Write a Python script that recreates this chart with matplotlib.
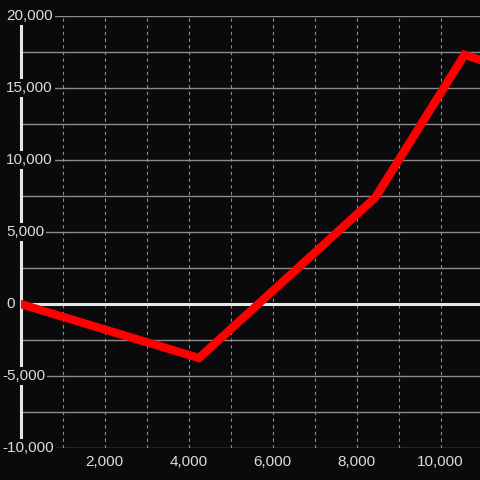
import matplotlib.pyplot as plt
from matplotlib.ticker import MultipleLocator, FuncFormatter
from matplotlib.transforms import blended_transform_factory

# Series
x_vals = [0, 4250, 8450, 10570, 11000]
y_vals = [0, -3750, 7400, 17300, 16900]

x_ticks = [2000, 4000, 6000, 8000, 10000]
y_ticks = [-10000, -5000, 0, 5000, 10000, 15000, 20000]

bg = '#0a090c'
grid_col = '#8c8c8c'
text_col = '#dcdcdc'

plt.rcParams['font.family'] = ['Liberation Sans', 'DejaVu Sans']

fig = plt.figure(figsize=(4.8, 4.8), dpi=100, facecolor=bg)
ax = fig.add_axes([20.5 / 480, 32 / 480, 459.5 / 480, 432 / 480])
ax.set_facecolor(bg)

ax.plot(x_vals, y_vals, color='#ff0000', linewidth=6, solid_joinstyle='miter', zorder=4)

ax.set_xlim(0, 459.5 / 42 * 1000)
ax.set_ylim(-10000, 20000)

# Grid
ax.set_yticks(y_ticks)
ax.yaxis.set_minor_locator(MultipleLocator(2500))
ax.set_xticks(x_ticks)
ax.xaxis.set_minor_locator(MultipleLocator(1000))
ax.grid(True, which='both', axis='y', color=grid_col, linewidth=1, linestyle='-')
ax.grid(True, which='both', axis='x', color=grid_col, linewidth=0.8, linestyle=(0, (3, 3)))
ax.set_axisbelow(True)

# zero line
ax.axhline(0, color='#e6e6e6', linewidth=2.2, zorder=3)

fmt = FuncFormatter(lambda v, p: f'{int(v):,}')
ax.xaxis.set_major_formatter(fmt)
ax.tick_params(axis='both', which='both', length=0, colors=text_col, labelsize=11)
ax.tick_params(axis='y', labelleft=False)
ax.tick_params(axis='x', pad=5)

# y labels sit over the axis line, left-aligned
trans = blended_transform_factory(fig.transFigure, ax.transData)
for v in y_ticks:
    x0 = 2 / 480 if v < 0 else 6 / 480
    ax.text(x0, v, f'{v:,}', transform=trans, ha='left', va='center',
            color=text_col, fontsize=11, zorder=6, clip_on=False,
            bbox=dict(facecolor=bg, edgecolor='none', pad=1.5))

for side in ['top', 'right', 'bottom']:
    ax.spines[side].set_visible(False)
ax.spines['left'].set_color('#e6e6e6')
ax.spines['left'].set_linewidth(2.2)

fig.savefig('out.png', dpi=100, facecolor=bg)
